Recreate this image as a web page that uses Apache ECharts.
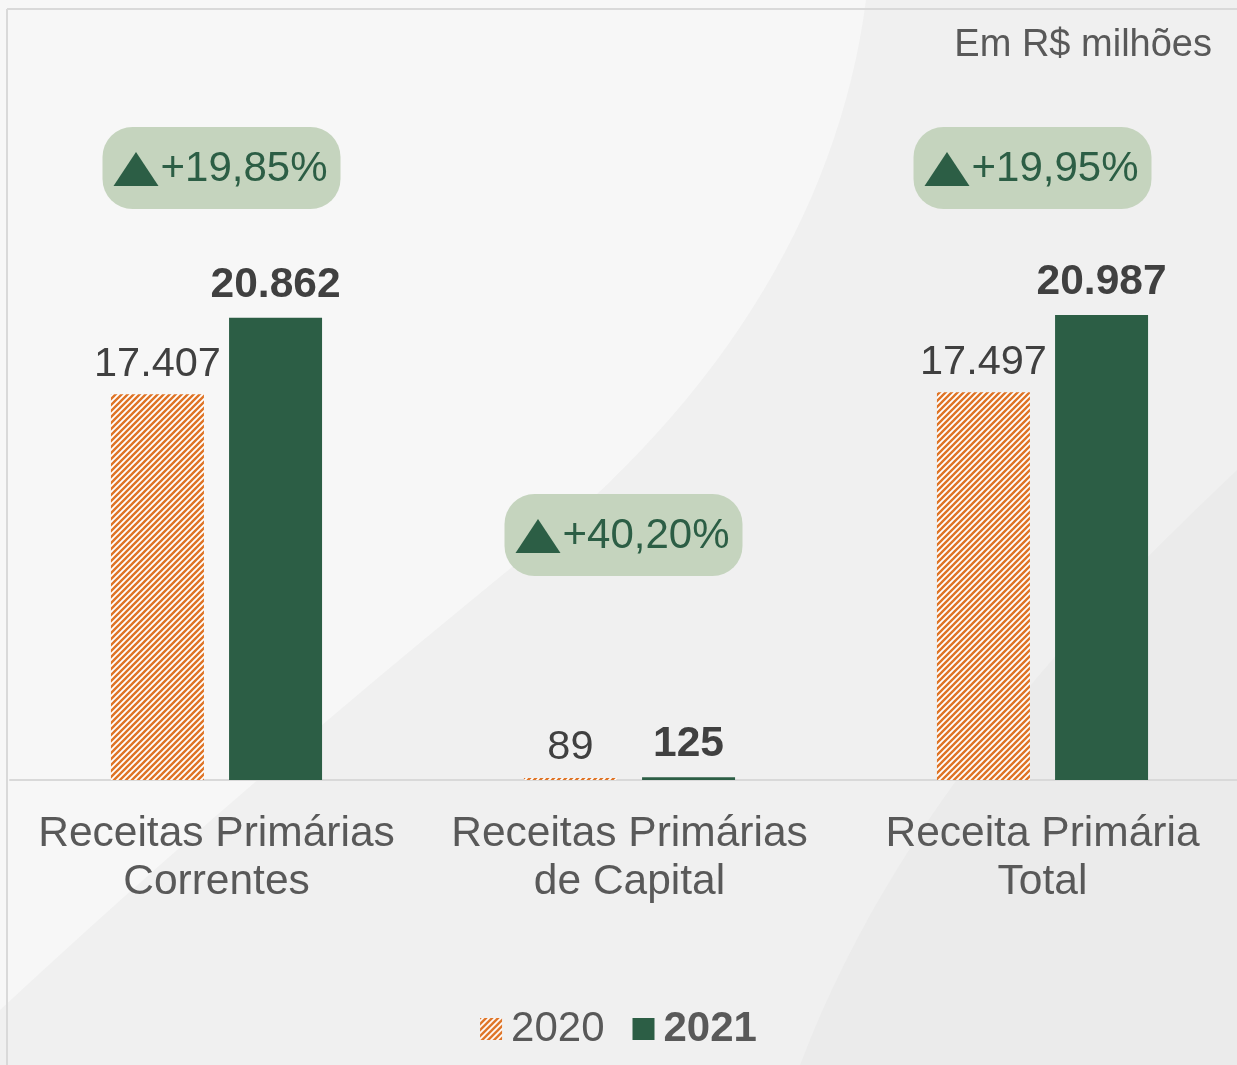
<!DOCTYPE html>
<html>
<head>
<meta charset="utf-8">
<script src="https://cdn.jsdelivr.net/npm/echarts@6/dist/echarts.min.js"></script>
<style>
  html, body { margin: 0; padding: 0; background: #f0f0f0; }
  #chart { width: 1237px; height: 1065px; }
</style>
</head>
<body>
<div id="chart"></div>
<script>
const categories = [
  'Receitas Primárias\nCorrentes',
  'Receitas Primárias\nde Capital',
  'Receita Primária\nTotal'
]
const years = ['2020', '2021']
const values2020 = [17407, 89, 17497]
const values2021 = [20862, 125, 20987]
const variacao = ['+19,85%', '+40,20%', '+19,95%']

const font = '"Liberation Sans", Arial, sans-serif'
const green = '#2c5e45'
const orange = '#df7426'
const textGray = '#595959'
// posição dos selos (centro em y, deslocamento em x)
const badgeY = [168, 535, 168]
const badgeDx = [5, -6, -10]

// hachura laranja da série 2020
function hatch() {
  const c = document.createElement('canvas')
  c.width = 6; c.height = 6
  const ctx = c.getContext('2d')
  ctx.fillStyle = '#ffffff'
  ctx.fillRect(0, 0, 6, 6)
  ctx.strokeStyle = orange
  ctx.lineWidth = 2.4
  ctx.beginPath()
  ctx.moveTo(-1, 7); ctx.lineTo(7, -1)
  ctx.moveTo(-1, 1); ctx.lineTo(1, -1)
  ctx.moveTo(5, 7); ctx.lineTo(7, 5)
  ctx.stroke()
  return c
}

// pontos de uma curva de bezier cúbica (para o fundo)
function bez(p0, p1, p2, p3, n) {
  const pts = []
  for (let i = 0; i <= n; i++) {
    const t = i / n, u = 1 - t
    pts.push([
      u*u*u*p0[0] + 3*u*u*t*p1[0] + 3*u*t*t*p2[0] + t*t*t*p3[0],
      u*u*u*p0[1] + 3*u*u*t*p1[1] + 3*u*t*t*p2[1] + t*t*t*p3[1]
    ])
  }
  return pts
}

const fmt = v => v.toLocaleString('de-DE')

const chart = echarts.init(document.getElementById('chart'))
chart.setOption({
  backgroundColor: 'transparent',
  textStyle: { fontFamily: font },
  animation: false,
  grid: { left: 10, width: 1239, top: 226, bottom: 285, outerBoundsMode: 'none', containLabel: false },
  legend: {
    data: years,
    left: 'center',
    top: 1003,
    icon: 'rect',
    itemWidth: 22,
    itemHeight: 22,
    itemGap: 28,
    formatter: name => name === '2021' ? '{b|' + name + '}' : '{n|' + name + '}',
    textStyle: {
      padding: [0, 0, 0, 4],
      rich: {
        n: { fontSize: 42, color: textGray, fontFamily: font },
        b: { fontSize: 42, color: textGray, fontWeight: 'bold', fontFamily: font }
      }
    }
  },
  xAxis: {
    type: 'category',
    data: categories,
    axisTick: { show: false },
    axisLine: { lineStyle: { color: '#d9d9d9', width: 2 } },
    axisLabel: { interval: 0, fontSize: 42.5, color: textGray, lineHeight: 48, margin: 30, fontFamily: font }
  },
  yAxis: { type: 'value', min: 0, max: 25000, show: false, splitLine: { show: false } },
  series: [
    {
      name: '2020',
      type: 'bar',
      data: values2020,
      barWidth: 93,
      barGap: '27%',
      itemStyle: { color: { image: hatch(), repeat: 'repeat' } },
      label: {
        show: true, position: 'top', distance: 9,
        fontSize: 41.5, color: '#404040', fontFamily: font,
        formatter: p => fmt(p.value)
      }
    },
    {
      name: '2021',
      type: 'bar',
      data: values2021,
      barWidth: 93,
      itemStyle: { color: green },
      label: {
        show: true, position: 'top', distance: 11,
        fontSize: 42.5, fontWeight: 'bold', color: '#404040', fontFamily: font,
        formatter: p => fmt(p.value)
      }
    }
  ]
})

// fundo, moldura e selos de variação
const lightArea = [[0, 0]]
  .concat(bez([866, 0], [840, 200], [730, 390], [533, 550], 30))
  .concat(bez([533, 550], [336, 710], [150, 870], [0, 1010], 30))
const darkArea = bez([1237, 470], [1100, 600], [900, 800], [800, 1065], 30)
  .concat([[1237, 1065]])

const graphics = [
  { type: 'polygon', z: -10, silent: true, shape: { points: lightArea }, style: { fill: '#f7f7f7' } },
  { type: 'polygon', z: -10, silent: true, shape: { points: darkArea }, style: { fill: '#ebebeb' } },
  { type: 'line', z: -5, shape: { x1: 7, y1: 9, x2: 1237, y2: 9 }, style: { stroke: '#d9d9d9', lineWidth: 2 } },
  { type: 'line', z: -5, shape: { x1: 7, y1: 9, x2: 7, y2: 1065 }, style: { stroke: '#d9d9d9', lineWidth: 2 } },
  {
    type: 'text', right: 25, top: 27,
    style: { text: 'Em R$ milhões', fontSize: 38, fill: textGray, fontFamily: font }
  }
]
categories.forEach((c, i) => {
  const cx = chart.convertToPixel({ xAxisIndex: 0 }, c) + badgeDx[i]
  const cy = badgeY[i]
  graphics.push({
    type: 'group',
    x: cx - 119, y: cy - 41,
    children: [
      { type: 'rect', shape: { x: 0, y: 0, width: 238, height: 82, r: 30 }, style: { fill: '#c5d4be' } },
      { type: 'polygon', shape: { points: [[11, 59], [56, 59], [33.5, 25]] }, style: { fill: green } },
      {
        type: 'text', x: 58, y: 42,
        style: { text: variacao[i], fontSize: 42, fill: green, fontFamily: font, verticalAlign: 'middle', align: 'left' }
      }
    ]
  })
})
chart.setOption({ graphic: graphics })
</script>
</body>
</html>
